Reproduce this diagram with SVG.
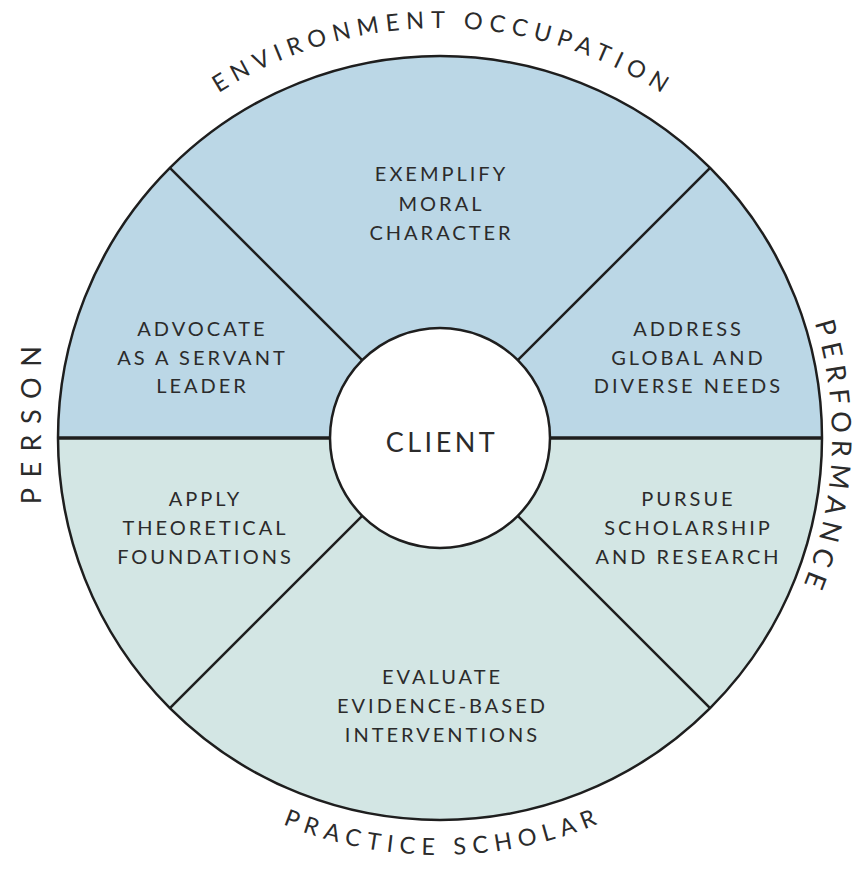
<svg xmlns="http://www.w3.org/2000/svg" width="865" height="869" viewBox="0 0 865 869">
<style>
.lbl{font-family:Lato,"Open Sans","Liberation Sans",sans-serif;font-size:20px;fill:#2b2b2b;letter-spacing:3px;text-anchor:middle}
.ctr{font-family:Lato,"Open Sans","Liberation Sans",sans-serif;font-size:27px;fill:#2b2b2b;letter-spacing:3.5px;text-anchor:middle}
.ring{font-family:Lato,"Open Sans","Liberation Sans",sans-serif;font-size:23.5px;fill:#2b2b2b;letter-spacing:6.6px;text-anchor:middle}
.side{font-family:Lato,"Open Sans","Liberation Sans",sans-serif;font-size:27px;fill:#2b2b2b;text-anchor:middle}
.blue{fill:#bbd7e6}
.green{fill:#d3e6e4}
.ln{stroke:#1e1e1e;stroke-width:2.5;fill:none}
</style>
<defs>
<path id="arcTop" d="M 30 438 A 410 410 0 0 1 850 438"/>
<path id="arcBottom" d="M 23 438 A 417 417 0 0 0 857 438"/>
<path id="arcRight" d="M 440 46 A 392 392 0 0 1 440 830"/>
</defs>

<g id="sector-top">
<path class="blue" d="M440 438 L169.9 167.9 A382 382 0 0 1 710.1 167.9 Z"/>
<text class="lbl" x="441.5" y="181">EXEMPLIFY</text>
<text class="lbl" x="441.5" y="211">MORAL</text>
<text class="lbl" x="441.5" y="240">CHARACTER</text>
</g>
<g id="sector-upper-right">
<path class="blue" d="M440 438 L710.1 167.9 A382 382 0 0 1 822 438 Z"/>
<text class="lbl" x="688.5" y="336">ADDRESS</text>
<text class="lbl" x="688.5" y="365">GLOBAL AND</text>
<text class="lbl" x="688.5" y="393">DIVERSE NEEDS</text>
</g>
<g id="sector-lower-right">
<path class="green" d="M440 438 L822 438 A382 382 0 0 1 710.1 708.1 Z"/>
<text class="lbl" x="688.5" y="506">PURSUE</text>
<text class="lbl" x="688.5" y="535">SCHOLARSHIP</text>
<text class="lbl" x="688.5" y="564">AND RESEARCH</text>
</g>
<g id="sector-bottom">
<path class="green" d="M440 438 L710.1 708.1 A382 382 0 0 1 169.9 708.1 Z"/>
<text class="lbl" x="442.5" y="684">EVALUATE</text>
<text class="lbl" x="442.5" y="713">EVIDENCE-BASED</text>
<text class="lbl" x="442.5" y="742">INTERVENTIONS</text>
</g>
<g id="sector-lower-left">
<path class="green" d="M440 438 L169.9 708.1 A382 382 0 0 1 58 438 Z"/>
<text class="lbl" x="205.5" y="506">APPLY</text>
<text class="lbl" x="205.5" y="535">THEORETICAL</text>
<text class="lbl" x="205.5" y="564">FOUNDATIONS</text>
</g>
<g id="sector-upper-left">
<path class="blue" d="M440 438 L58 438 A382 382 0 0 1 169.9 167.9 Z"/>
<text class="lbl" x="202.5" y="336">ADVOCATE</text>
<text class="lbl" x="202.5" y="365">AS A SERVANT</text>
<text class="lbl" x="202.5" y="393">LEADER</text>
</g>

<g id="connectors">
<circle class="ln" cx="440" cy="438" r="382"/>
<line class="ln" x1="58" y1="438" x2="330" y2="438" style="stroke-width:3.5"/>
<line class="ln" x1="550" y1="438" x2="822" y2="438" style="stroke-width:3.5"/>
<line class="ln" x1="362.2" y1="360.2" x2="169.9" y2="167.9"/>
<line class="ln" x1="517.8" y1="360.2" x2="710.1" y2="167.9"/>
<line class="ln" x1="362.2" y1="515.8" x2="169.9" y2="708.1"/>
<line class="ln" x1="517.8" y1="515.8" x2="710.1" y2="708.1"/>
</g>

<g id="client">
<circle cx="440" cy="438" r="110" fill="#ffffff" stroke="#1e1e1e" stroke-width="2.5"/>
<text class="ctr" x="442" y="452">CLIENT</text>
</g>

<g id="label-environment-occupation">
<text class="ring"><textPath href="#arcTop" startOffset="647.3">ENVIRONMENT OCCUPATION</textPath></text>
</g>
<g id="label-practice-scholar">
<text class="ring"><textPath href="#arcBottom" startOffset="658.3">PRACTICE SCHOLAR</textPath></text>
</g>
<g id="label-performance">
<text class="side" style="letter-spacing:6.7px"><textPath href="#arcRight" startOffset="635.1">PERFORMANCE</textPath></text>
</g>
<g id="label-person">
<text class="side" x="46" y="425" transform="rotate(-90 41 425)" style="letter-spacing:10.5px">PERSON</text>
</g>
</svg>
